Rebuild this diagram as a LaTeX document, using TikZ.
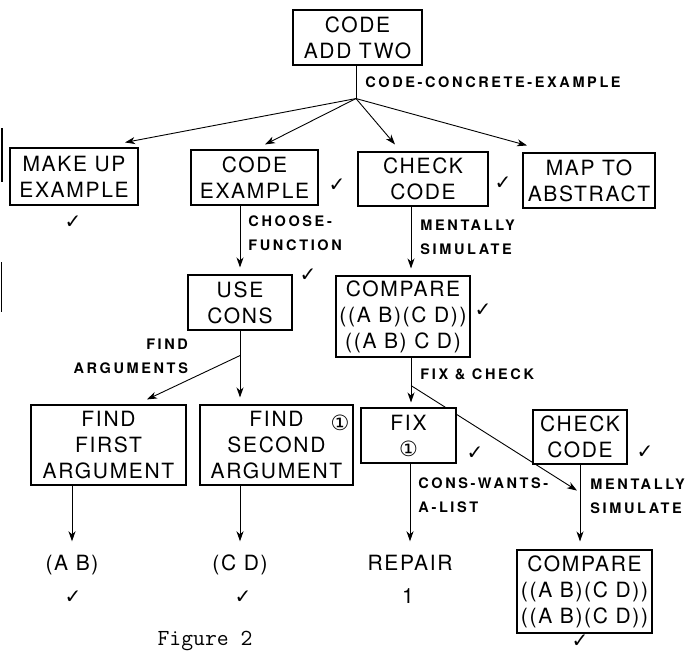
\documentclass[tikz,border=0pt]{standalone}
\usepackage{fontspec}
\usetikzlibrary{arrows.meta,calc,backgrounds}
\newfontfamily\bxfam[LetterSpace=8]{TeX Gyre Heros}
\newfontfamily\lbfam[LetterSpace=18]{TeX Gyre Heros}
\newfontfamily\symfam{DejaVu Sans}
\newcommand\bxfont{\bxfam\fontsize{21}{26}\selectfont}
\newcommand\lbfont{\lbfam\bfseries\fontsize{14.5}{24}\selectfont}
\newcommand\ckfont{\symfam\fontsize{20}{20}\selectfont}

\begin{document}
\begin{tikzpicture}[x=1pt,y=-1pt,
		box/.style={draw,line width=1.1pt,fill=white,align=center,font=\bxfont,inner sep=0pt},
		wh/.style 2 args={minimum width=#1pt,minimum height=#2pt},
		res/.style={font=\bxfont,inner sep=0pt,text height=15pt,text depth=4pt},
		lbl/.style={font=\lbfont,align=left,inner sep=0pt},
		tick/.style={font=\ckfont,inner sep=0pt},
		arr/.style={line width=.9pt,-{Stealth[length=10pt,width=7pt,inset=3pt]}}]
	\useasboundingbox (0,0) rectangle (699,651);
	
	\node[box,wh={129}{55}] (top) at (357.5,37.5) {CODE\\ADD TWO};
	\node[box,wh={128}{57}] (makeup) at (74,176.5) {MAKE UP\\EXAMPLE};
	\node[box,wh={127}{55}] (codeex) at (254.5,177.5) {CODE\\EXAMPLE};
	\node[box,wh={130}{54}] (check) at (423,179) {CHECK\\CODE};
	\node[box,wh={132}{55}] (mapabs) at (589,180.5) {MAP TO\\ABSTRACT};
	\node[box,wh={104}{55}] (usecons) at (240,302.5) {USE\\CONS};
	\node[box,wh={134}{81}] (compare) at (403,316.5) {COMPARE\\((A B)(C D))\\((A B) C D)};
	\node[box,wh={155}{80}] (first) at (108.5,445) {FIND\\FIRST\\ARGUMENT};
	\node[box,wh={153}{80}] (second) at (276.5,445) {FIND\\SECOND\\ARGUMENT};
	\node[font=\bxfont\symfam,inner sep=0pt] (second-one) at (340,423) {①};
	\node[box,wh={95}{55}] (fix) at (408.5,435.5) {FIX\\{\symfam ①}};
	\node[box,wh={94}{54}] (check2) at (580,437) {CHECK\\CODE};
	\node[box,wh={135}{83}] (compare2) at (584.5,591.5) {COMPARE\\((A B)(C D))\\((A B)(C D))};
	
	\node[res] (ab) at (72,565) {(A B)};
	\node[res] (cd) at (240,565) {(C D)};
	\node[res] (repair) at (410,565) {REPAIR};
	\node[res] (repair-n) at (408,598) {1};
	
	\node[tick] (makeup-ck) at (73,222) {✓};
	\node[tick] (codeex-ck) at (337,185) {✓};
	\node[tick] (check-ck) at (503,183) {✓};
	\node[tick] (usecons-ck) at (308,275) {✓};
	\node[tick] (compare-ck) at (483,310) {✓};
	\node[tick] (fix-ck) at (475,453) {✓};
	\node[tick] (check2-ck) at (645,452) {✓};
	\node[tick] (ab-ck) at (73,597) {✓};
	\node[tick] (cd-ck) at (243,597) {✓};
	\node[tick] (compare2-ck) at (580,641) {✓};
	
	\node[font=\ttfamily\fontsize{23}{23}\selectfont,inner sep=0pt] (caption) at (205,641) {Figure 2};
	
	\coordinate (split) at ($(top.south)+(-1.5,33)$);
	\draw[line width=.9pt] (top.south -| split) -- node[lbl,right=9pt]{CODE-CONCRETE-EXAMPLE} (split);
	\draw[arr] (split) -- ([xshift=51pt,yshift=5pt]makeup.north);
	\draw[arr] (split) -- ([xshift=10.5pt,yshift=5pt]codeex.north);
	\draw[arr] (split) -- ([xshift=-28pt,yshift=7pt]check.north);
	\draw[arr] (split) -- ([xshift=-62pt,yshift=7pt]mapabs.north);
	
	\draw[arr,shorten >=7pt] (usecons.north |- codeex.south) -- node[lbl,right=8pt,pos=.4]{CHOOSE-\\FUNCTION} (usecons.north);
	\draw[arr,shorten >=7pt] ([xshift=-12pt]check.south) -- node[lbl,right=9pt,pos=.45]{MENTALLY\\SIMULATE} ([xshift=8pt]compare.north);
	
	\coordinate (fa) at ($(usecons.south)+(0,25)$);
	\draw[arr,shorten >=7pt] (usecons.south) -- (usecons.south |- second.north);
	\draw[arr] (fa) -- node[lbl,align=right,anchor=east,pos=.2,xshift=-33pt,yshift=8pt]{FIND\\ARGUMENTS} ([xshift=38.5pt,yshift=5pt]first.north);
	\draw[arr,shorten >=14pt] (first.south -| ab.north) -- (ab.north);
	\draw[arr,shorten >=14pt] (second.south -| cd.north) -- (cd.north);
	
	\draw[arr,shorten >=5pt] ([xshift=8pt]compare.south) -- node[lbl,right=9pt,pos=.33]{FIX \& CHECK} ($(compare.south |- fix.north)+(8,0)$);
	\draw[arr,shorten >=14pt] (fix.south -| repair.north) -- node[lbl,right=8pt,pos=.35]{CONS-WANTS-\\A-LIST} (repair.north);
	\draw[arr,shorten >=8pt] (check2.south) -- node[lbl,right=10pt,pos=.37]{MENTALLY\\SIMULATE} (check2.south |- compare2.north);
	\begin{scope}[on background layer]
		\draw[arr] ($(compare.south)+(8,28)$) coordinate (fc) -- ($(check2.south)+(-3,26)$);
	\end{scope}
	
	\draw[line width=2pt] (1.5,128) -- (1.5,182);
	\draw[line width=1.5pt] (1.5,262) -- (1.5,312);
\end{tikzpicture}
\end{document}
